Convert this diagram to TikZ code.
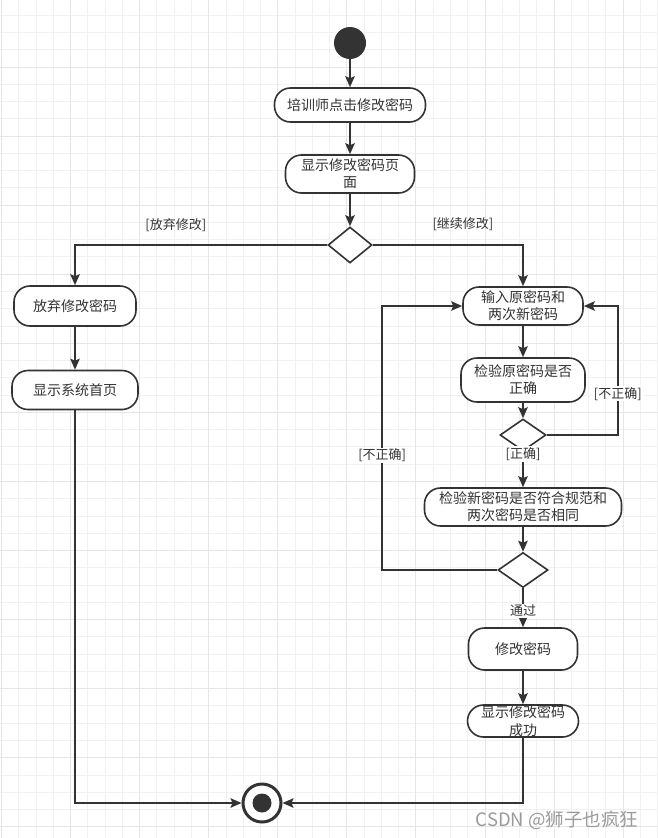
\documentclass[tikz,border=0pt]{standalone}
\usepackage{fontspec}
\setmainfont{Noto Sans CJK SC}
\usetikzlibrary{arrows.meta,shapes.geometric,calc}
\definecolor{ink}{HTML}{333333}
\definecolor{gminor}{HTML}{F1F1F1}
\definecolor{gmajor}{HTML}{E6E6E6}
\definecolor{wm}{HTML}{9A9A9A}
\begin{document}
\begin{tikzpicture}[x=1pt,y=-1pt,
  act/.style={draw=ink, line width=1.6pt, fill=white, rounded corners=16pt,
    text=ink, font=\fontsize{14}{17}\selectfont, align=center, inner sep=0pt},
  dec/.style={diamond, draw=ink, line width=1.6pt, fill=white, inner sep=0pt},
  arr/.style={draw=ink, line width=1.6pt, -{Stealth[length=11pt,width=9.5pt,inset=2pt]}},
  lbl/.style={text=ink, font=\fontsize{13}{15}\selectfont, inner sep=1pt},
  lblw/.style={lbl, fill=white},
  gmin/.style={draw=gminor, line width=1pt},
  gmaj/.style={draw=gmajor, line width=1pt}]
\useasboundingbox (0,0) rectangle (658,838);
% grid
\foreach \i in {0,...,38} \draw[gmin] ({1.5+17.27*\i},0) -- ({1.5+17.27*\i},838);
\foreach \i in {0,...,49} \draw[gmin] (0,{-2.08+17.27*\i}) -- (658,{-2.08+17.27*\i});
\foreach \i in {0,...,9} \draw[gmaj] ({1.5+69.08*\i},0) -- ({1.5+69.08*\i},838);
\foreach \i in {0,...,12} \draw[gmaj] (0,{-2.08+69.08*\i}) -- (658,{-2.08+69.08*\i});

% nodes
\node[circle, fill=ink, minimum size=32pt, inner sep=0pt] (start) at (350,43) {};
\node[act, minimum width=151pt, minimum height=34pt] (b1) at (350,105) {培训师点击修改密码};
\node[act, minimum width=129pt, minimum height=38pt] (b2) at (350,174) {显示修改密码页\\面};
\node[dec, minimum width=44pt, minimum height=36pt] (d1) at (350,245) {};
\node[act, minimum width=122pt, minimum height=40pt] (a1) at (75,306) {放弃修改密码};
\node[act, minimum width=126pt, minimum height=39pt] (a2) at (75,390) {显示系统首页};
\node[act, minimum width=120pt, minimum height=38pt] (c1) at (523,306) {输入原密码和\\两次新密码};
\node[act, minimum width=124pt, minimum height=44pt] (c2) at (523,380) {检验原密码是否\\正确};
\node[dec, minimum width=46pt, minimum height=32pt] (d2) at (523,435) {};
\node[act, minimum width=197pt, minimum height=38pt] (c3) at (523,507) {检验新密码是否符合规范和\\两次密码是否相同};
\node[dec, minimum width=50pt, minimum height=35pt] (d3) at (523,570) {};
\node[act, minimum width=109pt, minimum height=42pt] (c4) at (523,649) {修改密码};
\node[act, minimum width=111pt, minimum height=32pt, font=\fontsize{14}{18}\selectfont] (c5) at (523,721) {显示修改密码\\成功};
\node[circle, draw=ink, line width=3pt, fill=white, minimum size=38pt, inner sep=0pt] (end) at (262,803) {};
\fill[ink] (end.center) circle (9.5);

% connectors
\draw[arr] (start) -- (b1);
\draw[arr] (b1) -- (b2);
\draw[arr] (b2) -- (d1);
\draw[arr] (d1.west) -| node[lbl, pos=0.3, above=11pt] {[放弃修改]} (a1.north);
\draw[arr] (d1.east) -| node[lbl, pos=0.3, above=12pt] {[继续修改]} (c1.north);
\draw[arr] (a1) -- (a2);
\draw[arr] (a2.south) |- (end.west);
\draw[arr] (c1) -- (c2);
\draw[arr] (c2) -- (d2);
\draw[arr] (d2.south) -- node[lblw, pos=0.06] {[正确]} (c3.north);
\draw[arr] (d2.east) -| node[lblw, pos=0.66] {[不正确]} ([xshift=34pt]c1.east) -- (c1.east);
\draw[arr] (c3) -- (d3);
\draw[arr] (d3.west) -| node[lblw, pos=0.717] {[不正确]} ([xshift=-80pt]c1.west) -- (c1.west);
\draw[arr] (d3.south) -- node[lblw, pos=0.58] {通过} (c4.north);
\draw[arr] (c4) -- (c5);
\draw[arr] (c5.south) |- (end.east);

% watermark
\node[text=wm, font=\fontsize{18.5}{20}\selectfont, inner sep=0pt] (wmk) at (557,820) {CSDN @狮子也疯狂};
\end{tikzpicture}
\end{document}
